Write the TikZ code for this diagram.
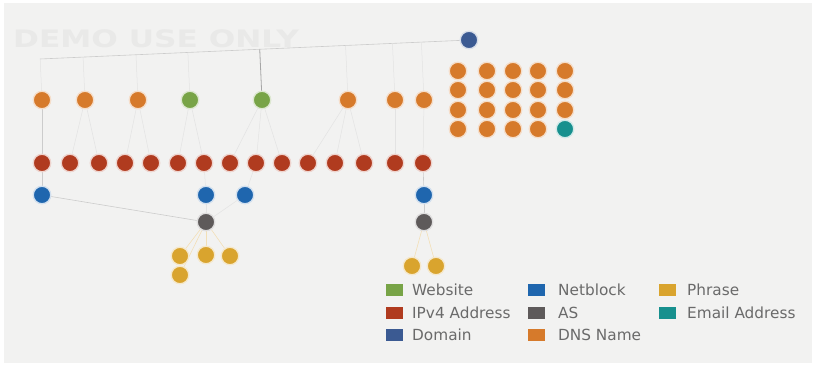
\documentclass[tikz,border=0pt]{standalone}
\usepackage{fontspec}
\usepackage{graphicx}
\setmainfont{DejaVu Sans}
\usetikzlibrary{calc}

\definecolor{cBack}{HTML}{F2F2F1}
\definecolor{cDNS}{HTML}{D67A2B}
\definecolor{cWeb}{HTML}{78A447}
\definecolor{cIP}{HTML}{B03B1F}
\definecolor{cNet}{HTML}{1F66AE}
\definecolor{cAS}{HTML}{5E5A5A}
\definecolor{cPhr}{HTML}{D9A42E}
\definecolor{cMail}{HTML}{17908E}
\definecolor{cDom}{HTML}{3B5A92}
\definecolor{cText}{HTML}{6A6A6A}
\definecolor{cMark}{HTML}{E9E9E8}

\pgfdeclarelayer{canvas}
\pgfdeclarelayer{links}
\pgfsetlayers{canvas,links,main}

\tikzset{
  gnode/.style={circle, inner sep=0pt, minimum size=17.5pt, line width=1.3pt},
  dns/.style={gnode, fill=cDNS, draw=cDNS!25},
  web/.style={gnode, fill=cWeb, draw=cWeb!25},
  ipv4/.style={gnode, fill=cIP, draw=cIP!22},
  netb/.style={gnode, fill=cNet, draw=cNet!20},
  asys/.style={gnode, fill=cAS, draw=cAS!20},
  phr/.style={gnode, fill=cPhr, draw=cPhr!25},
  mail/.style={gnode, fill=cMail, draw=cMail!20},
  dom/.style={gnode, fill=cDom, draw=cDom!20},
  link/.style={draw=black!20, line width=0.6pt},
  faint/.style={draw=black!11, line width=0.5pt},
  plink/.style={draw=cPhr!35, line width=0.6pt},
  keybox/.style={minimum width=17pt, minimum height=12pt, inner sep=0pt},
  keytext/.style={anchor=west, inner sep=0pt, text=cText, font=\fontsize{15.3}{17}\selectfont},
}

\begin{document}
\begin{tikzpicture}[x=1pt, y=-1pt]
  % canvas
  \begin{pgfonlayer}{canvas}
    \fill[white] (0,0) rectangle (816,367);
    \fill[cBack] (4,3) rectangle (812,363);
  \end{pgfonlayer}
  \useasboundingbox (0,0) rectangle (816,367);

  % watermark
  \node[anchor=west, inner sep=0pt, text=cMark, font=\fontsize{24}{24}\selectfont\bfseries] (mark) at (13,39) {\scalebox{1.3}[1]{DEMO USE ONLY}};

  % domain
  \node[dom] (dom) at (469,40) {};
  \coordinate (trunkL) at (40,59);

  % first level: DNS names and websites
  \node[dns] (t1) at (42,100) {};
  \node[dns] (t2) at (85,100) {};
  \node[dns] (t3) at (138,100) {};
  \node[web] (t4) at (190,100) {};
  \node[web] (t5) at (262,100) {};
  \node[dns] (t6) at (348,100) {};
  \node[dns] (t7) at (395,100) {};
  \node[dns] (t8) at (424,100) {};

  % block of DNS names
  \foreach \c/\x in {1/458,2/487,3/513,4/538,5/565}{
    \foreach \r/\y in {1/71,2/90,3/110}{
      \node[dns] (g\c\r) at (\x,\y) {};
    }
  }
  \foreach \c/\x in {1/458,2/487,3/513,4/538}{
    \node[dns] (g\c4) at (\x,129) {};
  }
  \node[mail] (g54) at (565,129) {};

  % IPv4 addresses
  \foreach \i/\x in {1/42,2/70,3/99,4/125,5/151,6/178,7/204,8/230,9/256,10/282,11/308,12/335,13/364,14/395,15/423}{
    \node[ipv4] (ip\i) at (\x,163) {};
  }

  % netblocks, AS and phrases
  \node[netb] (nb1) at (42,195) {};
  \node[netb] (nb2) at (206,195) {};
  \node[netb] (nb3) at (245,195) {};
  \node[netb] (nb4) at (424,195) {};
  \node[asys] (as1) at (206,222) {};
  \node[asys] (as2) at (424,222) {};
  \node[phr] (p1) at (180,256) {};
  \node[phr] (p2) at (206,255) {};
  \node[phr] (p3) at (230,256) {};
  \node[phr] (p4) at (180,275) {};
  \node[phr] (p5) at (412,266) {};
  \node[phr] (p6) at (436,266) {};

  \begin{pgfonlayer}{links}
    % trunk from the domain and drops to the first level
    \draw[link] (dom.center) -- (trunkL);
    \foreach \n in {t1,t2,t3,t4,t6,t7,t8}{
      \draw[faint] (\n.center) -- ($(trunkL)!(\n.center)!(dom.center)$);
    }
    \draw[draw=black!35, line width=0.8pt] (t5.center) -- ($(trunkL)!(t5.center)!(dom.center)$);

    % first level to IPv4
    \draw[link] (t1) -- (ip1);
    \foreach \a/\b in {t2/ip2,t2/ip3,t3/ip4,t3/ip5,t4/ip6,t4/ip7,t5/ip8,t5/ip9,t5/ip10,t6/ip11,t6/ip12,t6/ip13,t7/ip14,t8/ip15}{
      \draw[faint] (\a) -- (\b);
    }

    % IPv4 to netblocks, netblocks to AS
    \draw[link] (ip1) -- (nb1);
    \draw[faint] (ip7) -- (nb2);
    \draw[faint] (ip9) -- (nb3);
    \draw[link] (ip15) -- (nb4);
    \draw[link] (nb1) -- (as1);
    \draw[faint] (nb2) -- (as1);
    \draw[faint] (nb3) -- (as1);
    \draw[link] (nb4) -- (as2);

    % AS to phrases
    \foreach \p in {p1,p2,p3,p4}{ \draw[plink] (as1) -- (\p); }
    \foreach \p in {p5,p6}{ \draw[plink] (as2) -- (\p); }
  \end{pgfonlayer}

  % legend
  \node[keybox, fill=cWeb] (k1) at (394,290) {};
  \node[keybox, fill=cIP] (k2) at (394,312.5) {};
  \node[keybox, fill=cDom] (k3) at (394,335) {};
  \node[keybox, fill=cNet] (k4) at (536,290) {};
  \node[keybox, fill=cAS] (k5) at (536,312.5) {};
  \node[keybox, fill=cDNS] (k6) at (536,335) {};
  \node[keybox, fill=cPhr] (k7) at (667,290) {};
  \node[keybox, fill=cMail] (k8) at (667,312.5) {};
  \node[keytext] (l1) at (412,290) {Website};
  \node[keytext] (l2) at (412,312.5) {IPv4 Address};
  \node[keytext] (l3) at (412,335) {Domain};
  \node[keytext] (l4) at (558,290) {Netblock};
  \node[keytext] (l5) at (558,312.5) {AS};
  \node[keytext] (l6) at (558,335) {DNS Name};
  \node[keytext] (l7) at (687,290) {Phrase};
  \node[keytext] (l8) at (687,312.5) {Email Address};
\end{tikzpicture}
\end{document}
